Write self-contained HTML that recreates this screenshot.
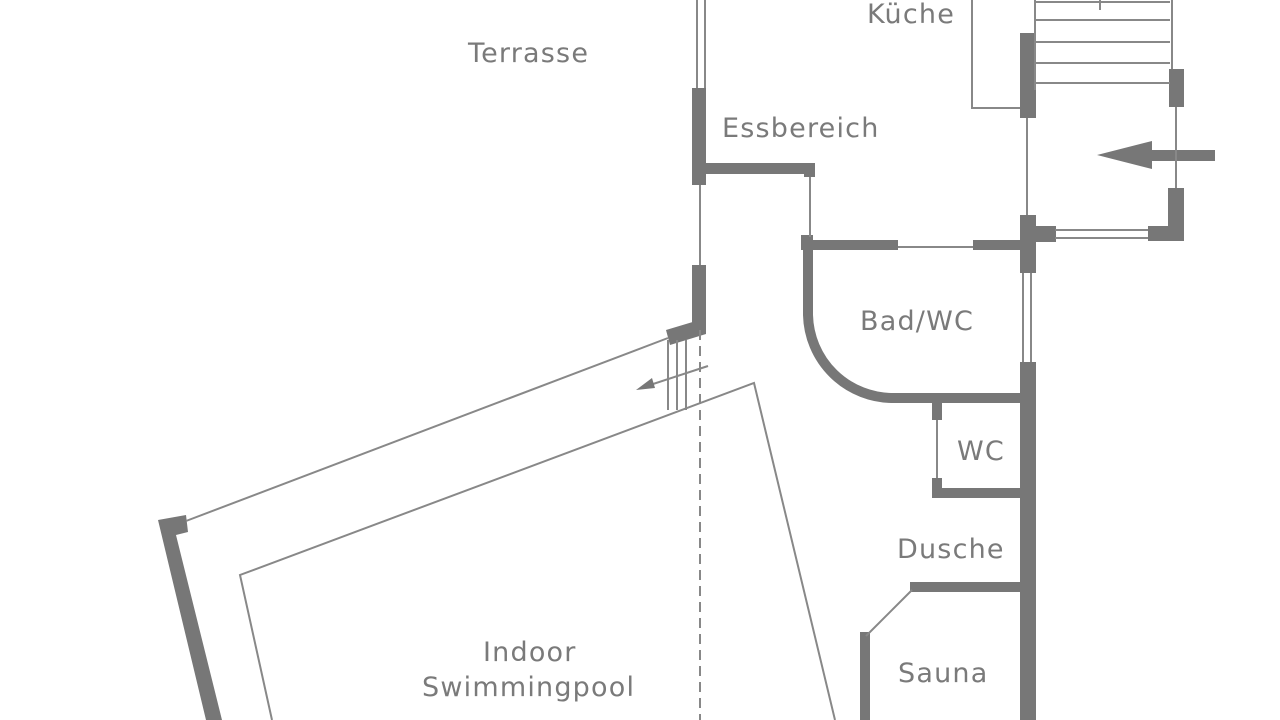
<!DOCTYPE html>
<html><head><style>
html,body{margin:0;padding:0;background:#fff;}
svg{display:block}
text{font-family:"DejaVu Sans","Liberation Sans",sans-serif;font-size:27px;letter-spacing:1.2px;fill:#7a7a7a;}
</style></head><body>
<svg width="1280" height="720" viewBox="0 0 1280 720" xmlns="http://www.w3.org/2000/svg">
<g fill="#777" stroke="none">
<rect x="692" y="88" width="14" height="97"/>
<rect x="706" y="163" width="106" height="11"/>
<rect x="804" y="163" width="11" height="14"/>
<rect x="692" y="265" width="14" height="65"/>
<polygon points="666,330 706,318 706,334 670,345"/>
<rect x="1020" y="33" width="16" height="85"/>
<rect x="1169" y="69" width="15" height="38"/>
<rect x="1168" y="188" width="16" height="53"/>
<rect x="1148" y="226" width="36" height="15"/>
<rect x="1020" y="215" width="16" height="58"/>
<rect x="1036" y="226" width="20" height="16"/>
<rect x="1140" y="150" width="75" height="11"/>
<polygon points="1097,155 1152,141 1152,169"/>
<rect x="803" y="240" width="95" height="10"/>
<rect x="973" y="240" width="49" height="10"/>
<rect x="801" y="235" width="12" height="15"/>
<rect x="1020" y="362" width="16" height="358"/>
<rect x="932" y="403" width="10" height="17"/>
<rect x="932" y="478" width="10" height="17"/>
<rect x="932" y="488" width="90" height="10"/>
<rect x="910" y="582" width="112" height="10"/>
<rect x="860" y="632" width="10" height="88"/>
<polygon points="158,520 186,515 188,532 176,535 222,720 206,720"/>
</g>
<g fill="none" stroke="#777">
<path d="M808 237 V315 A85 85 0 0 0 893 398 H1022" stroke-width="10"/>
</g>
<g fill="none" stroke="#888" stroke-width="2">
<line x1="697" y1="0" x2="697" y2="88"/><line x1="705" y1="0" x2="705" y2="88"/>
<line x1="700" y1="185" x2="700" y2="265"/>
<line x1="810" y1="177" x2="810" y2="237"/>
<polyline points="972,0 972,108 1020,108"/>
<line x1="1036" y1="2" x2="1170" y2="2"/>
<line x1="1036" y1="20" x2="1170" y2="20"/>
<line x1="1036" y1="42" x2="1170" y2="42"/>
<line x1="1036" y1="63" x2="1170" y2="63"/>
<line x1="1036" y1="83" x2="1170" y2="83"/>
<line x1="1035" y1="0" x2="1035" y2="90"/>
<line x1="1172" y1="0" x2="1172" y2="69"/>
<line x1="1100" y1="0" x2="1100" y2="10"/>
<line x1="1027" y1="118" x2="1027" y2="215"/>
<line x1="1176" y1="107" x2="1176" y2="188"/>
<line x1="1055" y1="230" x2="1148" y2="230"/><line x1="1055" y1="238" x2="1148" y2="238"/>
<line x1="898" y1="247" x2="973" y2="247"/>
<line x1="1023" y1="273" x2="1023" y2="362"/><line x1="1031" y1="273" x2="1031" y2="362"/>
<line x1="937" y1="420" x2="937" y2="478"/>
<line x1="912" y1="590" x2="866" y2="636"/>
<line x1="186" y1="521" x2="668" y2="338"/>
<polyline points="272,720 240,575 754,383 835,720"/>
<line x1="668" y1="340" x2="668" y2="410"/>
<line x1="677" y1="340" x2="677" y2="410"/>
<line x1="686" y1="340" x2="686" y2="410"/>
<line x1="700" y1="330" x2="700" y2="720" stroke-dasharray="10,6"/>
<line x1="708" y1="366" x2="650" y2="385"/>
</g>
<polygon points="636,390 652,378 655,388" fill="#777"/>
<text x="468" y="62">Terrasse</text>
<text x="867" y="23">Küche</text>
<text x="722" y="137">Essbereich</text>
<text x="860" y="330">Bad/WC</text>
<text x="957" y="460">WC</text>
<text x="897" y="558">Dusche</text>
<text x="898" y="682">Sauna</text>
<text x="483" y="661">Indoor</text>
<text x="422" y="696">Swimmingpool</text>
</svg>
</body></html>
